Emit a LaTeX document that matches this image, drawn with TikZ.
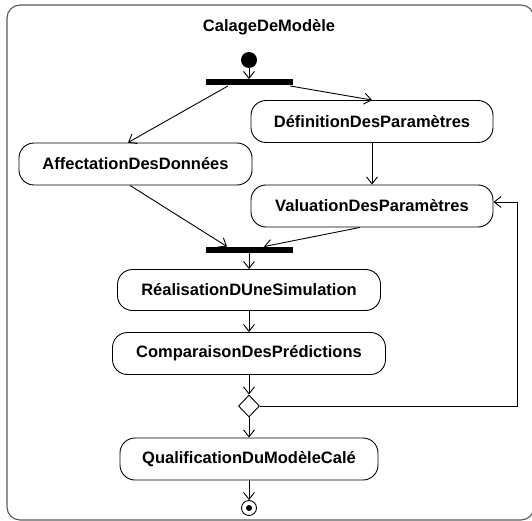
\documentclass[tikz,border=0pt]{standalone}
\usepackage{fontspec}
\setmainfont{Liberation Sans}
\usetikzlibrary{arrows.meta,shapes.geometric}
\begin{document}
\begin{tikzpicture}[x=1pt,y=-1pt,line width=0.9pt,
        every node/.style={inner sep=0pt,font=\bfseries\fontsize{16.5}{19}\selectfont},
        activity/.style={draw,rounded corners=15pt,minimum height=42pt},
        syncbar/.style={fill=black,minimum width=87pt,minimum height=6pt},
        flow/.style={-{Straight Barb[length=7pt,width=11pt]}}]
        \useasboundingbox (0,0) rectangle (532,521);
        \draw[black!65,line width=1.1pt,rounded corners=13pt] (7,5) rectangle (534,520);
        \node (title) at (269,27) {CalageDeModèle};
        \node[circle,fill=black,minimum size=16pt] (start) at (249,60) {};
        \node[syncbar] (fork) at (249,82.5) {};
        \node[activity,minimum width=242pt] (defin) at (372,121.5) {DéfinitionDesParamètres};
        \node[activity,minimum width=233pt] (affect) at (135.5,164) {AffectationDesDonnées};
        \node[activity,minimum width=242pt] (valu) at (372,206) {ValuationDesParamètres};
        \node[syncbar] (join) at (249,250) {};
        \node[activity,minimum width=263pt,minimum height=41pt] (realis) at (249,290) {RéalisationDUneSimulation};
        \node[activity,minimum width=273pt] (compar) at (249,353.5) {ComparaisonDesPrédictions};
        \node[diamond,draw,minimum width=21pt,minimum height=22pt] (choice) at (249,406) {};
        \node[activity,minimum width=258pt] (qualif) at (249,459) {QualificationDuModèleCalé};
        \node[circle,draw,minimum size=15pt] (final) at (249,508) {};
        \node[circle,fill=black,minimum size=6pt] (finaldot) at (final) {};
        \coordinate (loopcorner) at (517,406);
        \draw[flow] (start) -- (fork);
        \draw[flow] ([xshift=-21pt]fork.south) -- ([xshift=-7.5pt]affect.north);
        \draw[flow] ([xshift=-3pt]fork.south east) -- (defin.north);
        \draw[flow] (defin) -- (valu);
        \draw[flow] ([xshift=-5.5pt]affect.south) -- ([xshift=-22pt]join.north);
        \draw[flow] ([xshift=-12pt]valu.south) -- ([xshift=15pt]join.north);
        \draw[flow] (join) -- (realis);
        \draw[flow] (realis) -- (compar);
        \draw[flow] (compar) -- (choice);
        \draw[flow] (choice.east) -- (loopcorner) |- ([yshift=4pt]valu.east);
        \draw[flow] (choice) -- (qualif);
        \draw[flow] (qualif) -- (final);
        \end{tikzpicture}
\end{document}
